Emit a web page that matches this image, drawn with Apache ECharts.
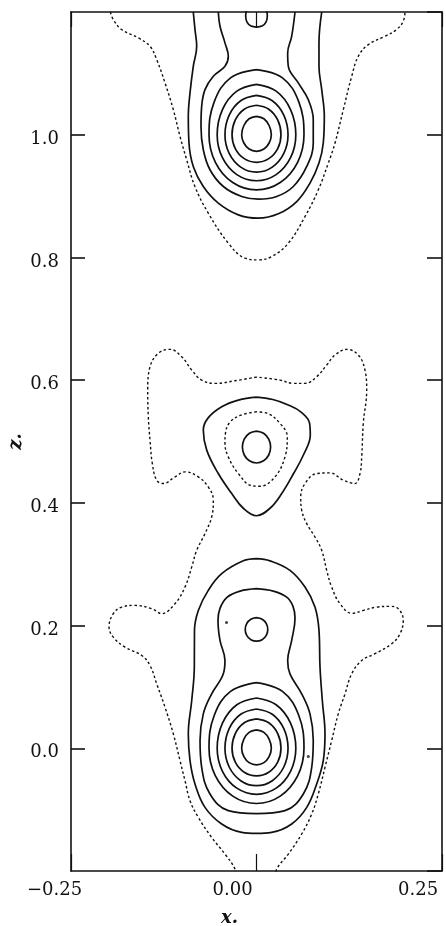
<!DOCTYPE html>
<html>
<head>
<meta charset="utf-8">
<title>Density contours</title>
<script src="https://cdn.jsdelivr.net/npm/echarts@6.0.0/dist/echarts.min.js"></script>
<style>
  html, body { margin: 0; padding: 0; background: #fff; }
  #chart { width: 446px; height: 926px; }
</style>
</head>
<body>
<div id="chart"></div>
<script>
// tick values and their printed labels
var xTickValues = [-0.25, 0, 0.25];
var xTickLabels = ['\u22120.25', '0.00', '0.25'];
var zTickValues = [0.0, 0.2, 0.4, 0.6, 0.8, 1.0];
var zTickLabels = ['0.0', '0.2', '0.4', '0.6', '0.8', '1.0'];

// contour lines, [x, z] pairs

// peak at z = 0
var peak0Ring1 = [[0,0.030],[0.010,0.026],[0.017,0.015],[0.020,0],[0.017,-0.0135],[0.010,-0.0234],[0,-0.027],[-0.010,-0.0234],[-0.017,-0.0135],[-0.020,0],[-0.017,0.015],[-0.010,0.026],[0,0.030]];
var peak0Ring2 = [[0,0.048],[0.0165,0.0416],[0.0286,0.024],[0.033,0],[0.0286,-0.0225],[0.0165,-0.039],[0,-0.045],[-0.0165,-0.039],[-0.0286,-0.0225],[-0.033,0],[-0.0286,0.024],[-0.0165,0.0416],[0,0.048]];
var peak0Ring3 = [[0,0.064],[0.0213,0.0554],[0.0368,0.032],[0.0425,0],[0.0368,-0.0305],[0.0213,-0.0528],[0,-0.061],[-0.0213,-0.0528],[-0.0368,-0.0305],[-0.0425,0],[-0.0368,0.032],[-0.0213,0.0554],[0,0.064]];
var peak0Ring4 = [[0,0.082],[0.0265,0.071],[0.0459,0.041],[0.053,0],[0.0459,-0.0375],[0.0265,-0.065],[0,-0.075],[-0.0265,-0.065],[-0.0459,-0.0375],[-0.053,0],[-0.0459,0.041],[-0.0265,0.071],[0,0.082]];
var peak0Ring5 = [[0,0.107],[0.035,0.0927],[0.057,0.0535],[0.064,0],[0.0554,-0.045],[0.032,-0.078],[0,-0.090],[-0.032,-0.078],[-0.0554,-0.045],[-0.064,0],[-0.057,0.0535],[-0.035,0.0927],[0,0.107]];
var smallRing02 = [[0,0.213],[0.0076,0.2103],[0.0132,0.2033],[0.0152,0.1937],[0.0132,0.184],[0.0076,0.177],[0,0.1745],[-0.0076,0.177],[-0.0132,0.184],[-0.0152,0.1937],[-0.0132,0.2033],[-0.0076,0.2103],[0,0.213]];
var peanut = [[0,0.2602],[-0.0222,0.2562],[-0.0398,0.246],[-0.0492,0.228],[-0.0519,0.2084],[-0.0492,0.1758],[-0.0425,0.1431],[-0.0447,0.1214],[-0.0604,0.0888],[-0.0717,0.0561],[-0.0761,0.0126],[-0.0739,-0.031],[-0.0627,-0.0744],[-0.038,-0.1017],[0,-0.1066],[0.0384,-0.1017],[0.0631,-0.0744],[0.0744,-0.031],[0.0765,0.0126],[0.0721,0.0561],[0.0609,0.0888],[0.0451,0.1214],[0.042,0.1431],[0.0474,0.1758],[0.0519,0.2117],[0.0492,0.2313],[0.0407,0.2464],[0.0226,0.2562],[0,0.2602]];
var bottle = [[0,0.3091],[-0.0178,0.3055],[-0.0469,0.2846],[-0.065,0.2574],[-0.0784,0.2247],[-0.0836,0.1921],[-0.0838,0.1322],[-0.0873,0.0779],[-0.0919,0.0235],[-0.0896,-0.0201],[-0.0829,-0.0581],[-0.0694,-0.0963],[-0.0469,-0.1234],[-0.0199,-0.1371],[0,-0.1387],[0.0205,-0.1371],[0.0474,-0.1234],[0.0677,-0.0963],[0.0811,-0.0581],[0.09,-0.0201],[0.0923,0.0235],[0.0887,0.0779],[0.0856,0.1322],[0.0842,0.1921],[0.0788,0.2301],[0.0654,0.2628],[0.0451,0.29],[0.0182,0.3055],[0,0.3091]];

// feature at z = 0.5
var midRing = [[0,0.517],[0.0095,0.5135],[0.0165,0.504],[0.019,0.491],[0.0165,0.478],[0.0095,0.4685],[0,0.465],[-0.0095,0.4685],[-0.0165,0.478],[-0.019,0.491],[-0.0165,0.504],[-0.0095,0.5135],[0,0.517]];
var midTriangle = [[0,0.5724],[-0.0245,0.5675],[-0.0469,0.5566],[-0.0654,0.5381],[-0.0717,0.5186],[-0.0671,0.4859],[-0.0515,0.4478],[-0.0334,0.4152],[-0.0178,0.3912],[0,0.379],[0.0182,0.3912],[0.034,0.4152],[0.05,0.4478],[0.064,0.48],[0.0725,0.51],[0.0715,0.53],[0.06,0.548],[0.042,0.56],[0.022,0.5685],[0,0.5724]];
var midDotted = [[0,0.5484],[-0.0209,0.543],[-0.0357,0.5316],[-0.0418,0.5136],[-0.0425,0.4973],[-0.038,0.4749],[-0.0245,0.4479],[-0.0065,0.4279],[0.0047,0.4271],[0.0249,0.4423],[0.0384,0.4749],[0.0415,0.5076],[0.0317,0.5295],[0.0155,0.5455],[0,0.5484]];

// peak at z = 1
var peak1Ring1 = [[0,1.030],[0.010,1.026],[0.017,1.015],[0.020,1.0],[0.017,0.9865],[0.010,0.9766],[0,0.973],[-0.010,0.9766],[-0.017,0.9865],[-0.020,1.0],[-0.017,1.015],[-0.010,1.026],[0,1.030]];
var peak1Ring2 = [[0,1.048],[0.0165,1.0416],[0.0286,1.024],[0.033,1.0],[0.0286,0.9775],[0.0165,0.961],[0,0.955],[-0.0165,0.961],[-0.0286,0.9775],[-0.033,1.0],[-0.0286,1.024],[-0.0165,1.0416],[0,1.048]];
var peak1Ring3 = [[0,1.064],[0.0213,1.0554],[0.0368,1.032],[0.0425,1.0],[0.0368,0.9695],[0.0213,0.9472],[0,0.939],[-0.0213,0.9472],[-0.0368,0.9695],[-0.0425,1.0],[-0.0368,1.032],[-0.0213,1.0554],[0,1.064]];
var peak1Ring4 = [[0,1.082],[0.0265,1.071],[0.0459,1.041],[0.053,1.0],[0.0459,0.9625],[0.0265,0.935],[0,0.925],[-0.0265,0.935],[-0.0459,0.9625],[-0.053,1.0],[-0.0459,1.041],[-0.0265,1.071],[0,1.082]];
var peak1Ring5 = [[0,1.106],[0.035,1.0927],[0.057,1.0535],[0.064,1.0],[0.0554,0.955],[0.032,0.922],[0,0.910],[-0.032,0.922],[-0.0554,0.955],[-0.064,1.0],[-0.057,1.0535],[-0.035,1.0927],[0,1.106]];
var smallRing12 = [[0,1.213],[0.0074,1.2103],[0.013,1.2033],[0.0146,1.1937],[0.013,1.184],[0.0074,1.177],[0,1.1755],[-0.0074,1.177],[-0.013,1.184],[-0.0146,1.1937],[-0.013,1.2033],[-0.0074,1.2103],[0,1.213]];
var neck = [[-0.0515,1.2],[-0.0492,1.1768],[-0.0425,1.1497],[-0.038,1.1278],[-0.0425,1.1115],[-0.0582,1.0952],[-0.0694,1.0734],[-0.0739,1.0462],[-0.0748,1.0135],[-0.0717,0.9755],[-0.0627,0.9429],[-0.0447,0.9156],[-0.0199,0.8993],[0.0024,0.895],[0.0272,0.8993],[0.0496,0.9156],[0.0677,0.9483],[0.0765,0.9865],[0.0765,1.0245],[0.0698,1.0571],[0.0563,1.0844],[0.0429,1.1115],[0.042,1.1333],[0.0474,1.1604],[0.0519,1.2]];
var outerU = [[-0.0852,1.2],[-0.0829,1.1714],[-0.0806,1.1441],[-0.0852,1.1115],[-0.0896,1.0681],[-0.0919,1.0299],[-0.091,0.9865],[-0.0852,0.9483],[-0.0717,0.9156],[-0.0515,0.8885],[-0.0245,0.8694],[0.0024,0.864],[0.0294,0.8711],[0.0542,0.8911],[0.0721,0.9212],[0.0842,0.9538],[0.09,0.9865],[0.0914,1.0299],[0.0879,1.0734],[0.0842,1.1115],[0.0842,1.1497],[0.0879,1.2]];
var topDotted = [[-0.197,1.2],[-0.193,1.1877],[-0.1817,1.1714],[-0.1593,1.1578],[-0.1435,1.1441],[-0.1345,1.1224],[-0.1233,1.0844],[-0.1121,1.0408],[-0.1031,0.9972],[-0.0941,0.9592],[-0.083,0.9156],[-0.065,0.8722],[-0.038,0.8233],[-0.0155,0.7988],[0.0024,0.796],[0.0205,0.8014],[0.0429,0.8233],[0.0654,0.8667],[0.0833,0.9102],[0.0968,0.9538],[0.1058,0.9865],[0.117,1.0408],[0.1283,1.0952],[0.1372,1.1278],[0.1507,1.1469],[0.1732,1.1604],[0.1889,1.1714],[0.1978,1.1849],[0.2001,1.2]];

// dotted line round the lower and middle features (leaves through the bottom edge)
var bigDotted = [[0,0.605],[-0.029,0.599],[-0.0559,0.5947],[-0.0739,0.6001],[-0.0873,0.6164],[-0.1008,0.6382],[-0.1166,0.6502],[-0.1323,0.6437],[-0.1435,0.6218],[-0.1466,0.5838],[-0.1458,0.5402],[-0.1435,0.5022],[-0.1404,0.4642],[-0.1345,0.4369],[-0.1256,0.4315],[-0.1098,0.4423],[-0.0964,0.4505],[-0.0784,0.4423],[-0.065,0.426],[-0.0582,0.4043],[-0.0604,0.377],[-0.0694,0.3499],[-0.0806,0.3227],[-0.0873,0.2954],[-0.0964,0.2628],[-0.1098,0.2357],[-0.1278,0.2194],[-0.1412,0.2275],[-0.1637,0.2329],[-0.1817,0.2301],[-0.193,0.2194],[-0.1988,0.1975],[-0.193,0.1812],[-0.1772,0.1648],[-0.1547,0.1513],[-0.1435,0.135],[-0.1345,0.1051],[-0.1233,0.0669],[-0.1121,0.0235],[-0.1031,-0.0201],[-0.0964,-0.0527],[-0.0896,-0.0854],[-0.0784,-0.1126],[-0.0604,-0.1453],[-0.0425,-0.1724],[-0.029,-0.1968],[-0.026,-0.215],[0.024,-0.215],[0.0272,-0.1968],[0.0429,-0.1724],[0.0609,-0.1397],[0.0744,-0.1071],[0.0833,-0.0744],[0.0923,-0.031],[0.1013,0.0126],[0.1102,0.0561],[0.1193,0.0888],[0.1283,0.1214],[0.1418,0.1431],[0.1597,0.1541],[0.1822,0.1704],[0.1934,0.1867],[0.1978,0.2084],[0.1911,0.2275],[0.1799,0.2313],[0.162,0.2301],[0.1439,0.2247],[0.1287,0.2198],[0.1125,0.2357],[0.1013,0.2628],[0.0946,0.29],[0.0879,0.3227],[0.0788,0.3444],[0.0677,0.3662],[0.0609,0.388],[0.0596,0.4097],[0.0654,0.4315],[0.0811,0.4478],[0.0991,0.4488],[0.117,0.4369],[0.1327,0.4315],[0.1395,0.4478],[0.1418,0.4749],[0.1439,0.5295],[0.1485,0.5838],[0.1462,0.6164],[0.1372,0.6409],[0.1216,0.6502],[0.1058,0.6409],[0.0946,0.6246],[0.0811,0.6055],[0.0654,0.5947],[0.0496,0.5947],[0.0317,0.6001],[0,0.605]];

// two stray dots on the map
var specks = [[-0.0404, 0.205], [0.0698, -0.0135]];

var solidLines = [peak0Ring1, peak0Ring2, peak0Ring3, peak0Ring4, peak0Ring5, smallRing02, peanut, bottle,
  midRing, midTriangle,
  peak1Ring1, peak1Ring2, peak1Ring3, peak1Ring4, peak1Ring5, smallRing12, neck, outerU];
var dottedLines = [midDotted, topDotted, bigDotted];

var ink = '#111';
var serif = '"DejaVu Serif", "Liberation Serif", serif';

function lookup (values, labels, v) {
  for (var i = 0; i < values.length; i++) {
    if (Math.abs(values[i] - v) < 1e-6) return labels[i];
  }
  return '';
}

function contour (data, dotted) {
  return {
    type: 'line',
    data: data,
    smooth: 0.4,
    showSymbol: false,
    symbol: 'none',
    clip: true,
    silent: true,
    lineStyle: dotted
      ? { color: ink, width: 1.4, type: [2.5, 2.5] }
      : { color: ink, width: 1.7 }
  };
}

var series = [];
solidLines.forEach(function (d) { series.push(contour(d, false)); });
dottedLines.forEach(function (d) { series.push(contour(d, true)); });
series.push({
  type: 'scatter',
  data: specks,
  symbolSize: 3,
  silent: true,
  itemStyle: { color: ink }
});

var axisLine = { show: true, onZero: false, lineStyle: { color: ink, width: 1.6 } };

var chart = echarts.init(document.getElementById('chart'));
chart.setOption({
  animation: false,
  backgroundColor: '#fff',
  grid: { left: 71, right: 4, top: 12, bottom: 55, containLabel: false, outerBoundsMode: 'none' },
  xAxis: [
    {
      type: 'value',
      position: 'bottom',
      min: -0.25,
      max: 0.25,
      interval: 0.25,
      name: 'x.',
      nameLocation: 'middle',
      nameGap: 38,
      nameMoveOverlap: false,
      nameTextStyle: { fontFamily: serif, fontStyle: 'italic', fontWeight: 'bold', fontSize: 18, color: ink, padding: [0, 54, 0, 0] },
      axisLine: axisLine,
      axisTick: { show: true, inside: true, length: 17, lineStyle: { color: ink, width: 1.2 } },
      axisLabel: {
        margin: 10,
        fontFamily: serif,
        fontSize: 18,
        color: ink,
        formatter: function (v) { return '{t|' + lookup(xTickValues, xTickLabels, v) + '}'; },
        rich: { t: { width: 88, align: 'left', fontFamily: serif, fontSize: 18, color: ink } }
      },
      splitLine: { show: false }
    },
    {
      type: 'value',
      position: 'top',
      min: -0.25,
      max: 0.25,
      interval: 0.25,
      axisLine: axisLine,
      axisTick: { show: true, inside: true, length: 15, lineStyle: { color: ink, width: 1.2 } },
      axisLabel: { show: false },
      splitLine: { show: false }
    }
  ],
  yAxis: [
    {
      type: 'value',
      position: 'left',
      min: -0.2,
      max: 1.2,
      interval: 0.2,
      name: 'z.',
      nameLocation: 'middle',
      nameRotate: 90,
      nameGap: 46,
      nameMoveOverlap: false,
      nameTextStyle: { fontFamily: serif, fontStyle: 'italic', fontWeight: 'bold', fontSize: 18, color: ink },
      axisLine: axisLine,
      axisTick: { show: true, inside: true, length: 14, lineStyle: { color: ink, width: 1.6 } },
      axisLabel: {
        margin: 12,
        fontFamily: serif,
        fontSize: 18,
        color: ink,
        showMinLabel: false,
        showMaxLabel: false,
        formatter: function (v) { return '{v|' + lookup(zTickValues, zTickLabels, v) + '}'; },
        rich: { v: { padding: [9, 0, 0, 0], fontFamily: serif, fontSize: 18, color: ink } }
      },
      splitLine: { show: false }
    },
    {
      type: 'value',
      position: 'right',
      min: -0.2,
      max: 1.2,
      interval: 0.2,
      axisLine: axisLine,
      axisTick: { show: true, inside: true, length: 15, lineStyle: { color: ink, width: 1.6 } },
      axisLabel: { show: false },
      splitLine: { show: false }
    }
  ],
  series: series
});
</script>
</body>
</html>
